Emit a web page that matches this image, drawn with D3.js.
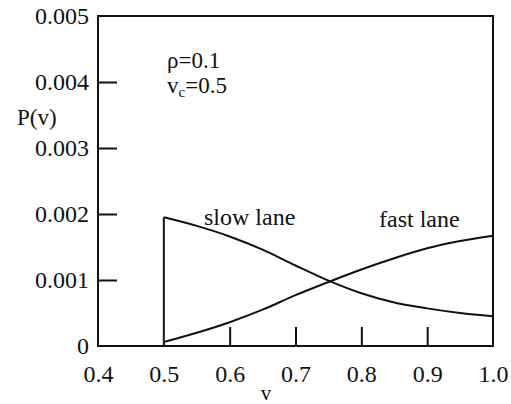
<!DOCTYPE html>
<html>
<head>
<meta charset="utf-8">
<script src="https://cdn.jsdelivr.net/npm/d3@7"></script>
<style>
  body { margin: 0; background: #fff; }
  svg text { font-family: "Liberation Serif", "DejaVu Serif", serif; fill: #111; }
</style>
</head>
<body>
<svg id="chart" width="511" height="404"></svg>
<script>
// values
var vValues = [0.5, 0.55, 0.6, 0.65, 0.7, 0.75, 0.8, 0.85, 0.9, 0.95, 1.0];
var slowLane = [0.00195, 0.00182, 0.00166, 0.00146, 0.00122, 0.00099, 0.00080, 0.00066, 0.00057, 0.00050, 0.00045];
var fastLane = [0.00006, 0.00020, 0.00036, 0.00055, 0.00077, 0.00097, 0.00116, 0.00133, 0.00148, 0.00159, 0.00167];
var xTicks = [0.4, 0.5, 0.6, 0.7, 0.8, 0.9, 1.0];
var xTickLabels = ['0.4', '0.5', '0.6', '0.7', '0.8', '0.9', '1.0'];
var yTicks = [0, 0.001, 0.002, 0.003, 0.004, 0.005];
var yTickLabels = ['0', '0.001', '0.002', '0.003', '0.004', '0.005'];

var svg = d3.select('#chart');
var plotLeft = 98, plotRight = 493, plotTop = 16, plotBottom = 346;
var serif = '"Liberation Serif", "DejaVu Serif", serif';

var x = d3.scaleLinear().domain([0.4, 1.0]).range([plotLeft, plotRight]);
var y = d3.scaleLinear().domain([0, 0.005]).range([plotBottom, plotTop]);

var ink = '#111';
var TICK = 19;

// frame
svg.append('rect')
    .attr('x', plotLeft).attr('y', plotTop)
    .attr('width', plotRight - plotLeft).attr('height', plotBottom - plotTop)
    .attr('fill', 'none').attr('stroke', ink).attr('stroke-width', 2);

// inward ticks, left side (labels sit 9px left of the frame)
var yAxis = d3.axisLeft(y).tickValues(yTicks).tickSize(-TICK).tickPadding(9)
    .tickFormat(function(d, i) { return yTickLabels[i]; });
var gy = svg.append('g').attr('transform', 'translate(' + plotLeft + ',0)').call(yAxis);
gy.attr('font-family', serif);
gy.select('.domain').remove();
gy.selectAll('.tick line').attr('stroke', ink).attr('stroke-width', 2)
    .filter(function(d) { return d === 0 || d === 0.005; }).remove();
gy.selectAll('.tick text').attr('font-size', 24).style('font-family', serif);

// inward ticks, bottom
var xAxis = d3.axisBottom(x).tickValues(xTicks).tickSize(-TICK).tickPadding(19)
    .tickFormat(function(d, i) { return xTickLabels[i]; });
var gx = svg.append('g').attr('transform', 'translate(0,' + plotBottom + ')').call(xAxis);
gx.attr('font-family', serif);
gx.select('.domain').remove();
gx.selectAll('.tick line').attr('stroke', ink).attr('stroke-width', 2)
    .filter(function(d) { return d === 0.4 || d === 1.0 || d === 0.5; }).remove();
gx.selectAll('.tick text').attr('font-size', 24).style('font-family', serif);

// curves
var line = d3.line()
    .x(function(d) { return x(d[0]); })
    .y(function(d) { return y(d[1]); })
    .curve(d3.curveMonotoneX);

var slowPts = vValues.map(function(v, i) { return [v, slowLane[i]]; });
var fastPts = vValues.map(function(v, i) { return [v, fastLane[i]]; });

// slow lane starts with the jump at v_c
svg.append('line')
    .attr('x1', x(vValues[0])).attr('x2', x(vValues[0]))
    .attr('y1', y(0)).attr('y2', y(slowLane[0]))
    .attr('stroke', ink).attr('stroke-width', 2);

svg.selectAll('path.curve')
    .data([slowPts, fastPts])
    .enter().append('path')
    .attr('class', 'curve')
    .attr('d', line)
    .attr('fill', 'none')
    .attr('stroke', ink)
    .attr('stroke-width', 2);

// labels
svg.append('text').attr('x', 204).attr('y', 225).attr('font-size', 24).text('slow lane');
svg.append('text').attr('x', 379).attr('y', 227).attr('font-size', 24).text('fast lane');
svg.append('text').attr('x', 17).attr('y', 125).attr('font-size', 23).text('P(v)');
svg.append('text').attr('x', 266).attr('y', 400).attr('font-size', 21)
    .attr('text-anchor', 'middle').text('v');

var rho = svg.append('text').attr('x', 167).attr('y', 68).attr('font-size', 23);
rho.text('ρ=0.1');
var vc = svg.append('text').attr('x', 167).attr('y', 93).attr('font-size', 23);
vc.append('tspan').text('v');
vc.append('tspan').attr('font-size', 15).attr('dy', 4).text('c');
vc.append('tspan').attr('dy', -4).text('=0.5');
</script>
</body>
</html>
